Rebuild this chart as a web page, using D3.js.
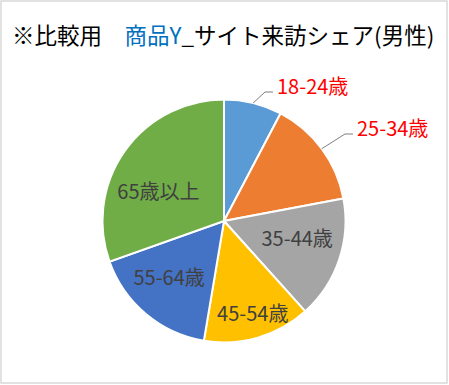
<!DOCTYPE html>
<html>
<head>
<meta charset="utf-8">
<script src="https://cdn.jsdelivr.net/npm/d3@7"></script>
<style>
  body { margin: 0; background: #fff; }
  text { font-family: "Noto Sans CJK JP", "Noto Sans", sans-serif; }
</style>
</head>
<body>
<div id="chart"></div>
<script>
// share of site visits by age group (men)
const ageGroups = ["18-24歳", "25-34歳", "35-44歳", "45-54歳", "55-64歳", "65歳以上"];
const shares = [7.7, 14.3, 16.3, 14.3, 16.9, 30.4];
const sliceColors = ["#5B9BD5", "#ED7D31", "#A5A5A5", "#FFC000", "#4472C4", "#70AD47"];

const width = 449, height = 385;
const cx = 224, cy = 221, radius = 121.5;

const svg = d3.select("#chart").append("svg")
    .attr("width", width)
    .attr("height", height);

svg.append("rect")
    .attr("x", 1).attr("y", 1)
    .attr("width", 446).attr("height", 382)
    .attr("fill", "#fff")
    .attr("stroke", "#d9d9d9")
    .attr("stroke-width", 1.5);

// title
let title = svg.append("text")
    .attr("x", 12).attr("y", 44)
    .style("font-size", "22.5px")
    .attr("fill", "#000");
title.append("tspan").text("※比較用　");
title.append("tspan").attr("fill", "#0070C0").text("商品Y");
title.append("tspan").text("_サイト来訪シェア(男性)");

let data = ageGroups.map((g, i) => ({name: g, value: shares[i], color: sliceColors[i]}));

let pie = d3.pie().sort(null).value(d => d.value);
let arcs = pie(data);
let arc = d3.arc().innerRadius(0).outerRadius(radius);

let pieGroup = svg.append("g")
    .attr("transform", "translate(" + cx + "," + cy + ")");

pieGroup.selectAll("path")
    .data(arcs)
    .enter().append("path")
    .attr("d", arc)
    .attr("fill", d => d.data.color)
    .attr("stroke", "#fff")
    .attr("stroke-width", 2);

// inside labels: [angle shift in degrees, radius fraction]
let inner = [null, null, [-5, 0.62], [-1, 0.8], [4, 0.65], [-11.5, 0.59]];
let labelPos = d => {
    let a = (d.startAngle + d.endAngle) / 2 + inner[d.index][0] * Math.PI / 180;
    let r = radius * inner[d.index][1];
    return [Math.sin(a) * r, -Math.cos(a) * r];
};

pieGroup.selectAll("text.inside")
    .data(arcs.filter(d => inner[d.index] !== null))
    .enter().append("text")
    .attr("class", "inside")
    .attr("x", d => labelPos(d)[0])
    .attr("y", d => labelPos(d)[1])
    .attr("text-anchor", "middle")
    .attr("dy", "0.35em")
    .style("font-size", "20px")
    .attr("fill", "#404040")
    .text(d => d.data.name);

// outside labels with leader lines for the two small slices
let outside = arcs.filter(d => d.index < 2);
let outerPt = d => {
    let a = (d.startAngle + d.endAngle) / 2;
    return [Math.sin(a) * radius, -Math.cos(a) * radius];
};
let elbow = [[41, -129], [121, -87]];

pieGroup.selectAll("polyline.leader")
    .data(outside)
    .enter().append("polyline")
    .attr("class", "leader")
    .attr("fill", "none")
    .attr("stroke", "#7f7f7f")
    .attr("stroke-width", 1)
    .attr("points", d => {
        let e = elbow[d.index];
        return [outerPt(d), e, [e[0] + 8, e[1]]].map(p => p.join(",")).join(" ");
    });

pieGroup.selectAll("text.outside")
    .data(outside)
    .enter().append("text")
    .attr("class", "outside")
    .attr("x", d => elbow[d.index][0] + 12)
    .attr("y", d => elbow[d.index][1] - 5)
    .attr("dy", "0.35em")
    .style("font-size", "20px")
    .attr("fill", "#FF0000")
    .text(d => d.data.name);
</script>
</body>
</html>
